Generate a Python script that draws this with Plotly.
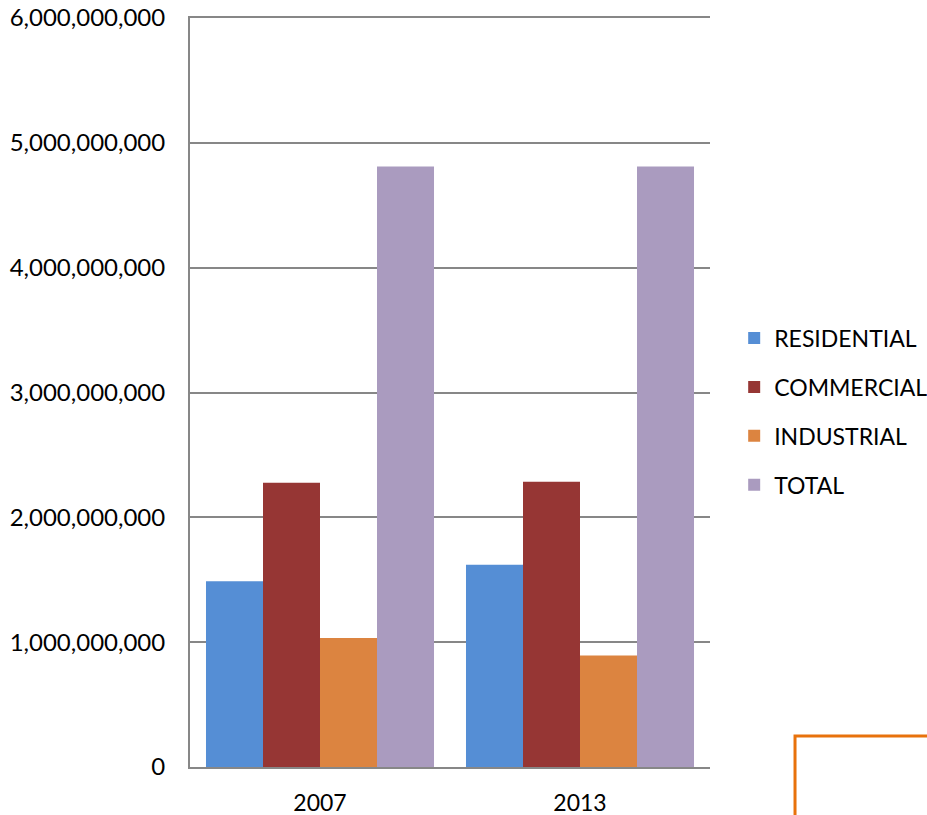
import plotly.graph_objects as go

# Consumption by sector for each survey year
years = ["2007", "2013"]
residential = [1.488e9, 1.62e9]
commercial = [2.277e9, 2.285e9]
industrial = [1.034e9, 0.893e9]
total = [4.81e9, 4.81e9]

series = [
    ("RESIDENTIAL", residential, "#558ED5"),
    ("COMMERCIAL", commercial, "#963634"),
    ("INDUSTRIAL", industrial, "#DC8440"),
    ("TOTAL", total, "#AA9BBF"),
]

y_ticks = [0, 1e9, 2e9, 3e9, 4e9, 5e9, 6e9]
y_tick_text = ["0", "1,000,000,000", "2,000,000,000", "3,000,000,000",
               "4,000,000,000", "5,000,000,000", "6,000,000,000"]

FONT = "Lato, 'Open Sans', sans-serif"
GRID = "#878787"

fig = go.Figure()
for i, (name, vals, color) in enumerate(series):
    fig.add_trace(go.Bar(
        x=years, y=vals, name=name, legendgroup=f"g{i}",
        marker=dict(color=color, line=dict(width=0)),
    ))

fig.update_layout(
    width=927, height=815, autosize=False,
    margin=dict(l=190, r=217, t=18, b=48, autoexpand=False),
    paper_bgcolor="white", plot_bgcolor="white",
    barmode="group", bargap=0.123, bargroupgap=0,
    font=dict(family=FONT, size=23, color="#000000"),
    showlegend=True,
    legend=dict(
        xref="container", yref="container",
        x=0.792, xanchor="left", y=0.495, yanchor="middle",
        font=dict(family=FONT, size=23, color="#000000"),
        tracegroupgap=16, itemwidth=30,
        bgcolor="rgba(0,0,0,0)",
    ),
    xaxis=dict(
        automargin=False, mirror=True,
        showgrid=False, showline=True, linecolor=GRID, linewidth=2,
        ticks="", ticklabelstandoff=14,
        tickfont=dict(family=FONT, size=23, color="#000000"),
    ),
    yaxis=dict(
        automargin=False,
        range=[0, 6e9], tickmode="array", tickvals=y_ticks, ticktext=y_tick_text,
        showgrid=True, gridcolor=GRID, gridwidth=1.5,
        showline=True, linecolor=GRID, linewidth=2,
        zeroline=False, ticks="", ticklabelstandoff=18,
        tickfont=dict(family=FONT, size=24, color="#000000"),
    ),
    shapes=[
        dict(type="path", xref="paper", yref="paper",
             path="M 1.1635,-0.07 L 1.1635,0.0414 L 1.45,0.0414",
             line=dict(color="#E8720C", width=3)),
    ],
)

fig.write_html(
    "out.html",
    post_script="document.body.style.margin='0';document.body.style.overflow='hidden';",
)
